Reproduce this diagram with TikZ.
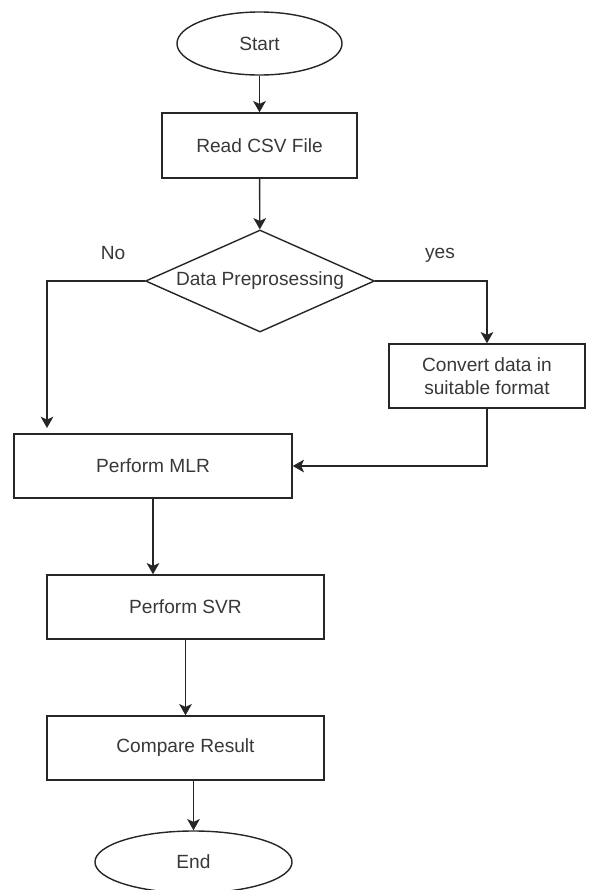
\documentclass[tikz,border=0pt]{standalone}
\usepackage{fontspec}
\setmainfont{Liberation Sans}
\usetikzlibrary{arrows.meta,positioning,shapes.geometric}
\tikzset{
  flow/.style={draw=black!85, line width=1pt, font=\fontsize{13.6}{16}\selectfont, text=black!78, inner sep=0pt, align=center},
  procbox/.style={flow, rectangle, minimum height=1.6cm},
  termin/.style={flow, ellipse},
  decide/.style={flow, diamond, aspect=2.25},
  conn/.style={draw=black!85, line width=1pt, -{Stealth[length=8pt,width=9pt,inset=2pt]}}
}
\begin{document}
\begin{tikzpicture}[x=0.025cm,y=-0.025cm]
\useasboundingbox (0,0) rectangle (589,890);
\node[termin, minimum width=4.125cm, minimum height=1.575cm] (start) at (259.5,43.5) {Start};
\node[procbox, minimum width=4.875cm, minimum height=1.625cm] (read) at (259.5,145.5) {Read CSV File};
\node[decide, minimum width=5.725cm, minimum height=2.55cm] (prep) at (260,281) {Data Preprosessing};
\node[procbox, minimum width=4.9cm] (conv) at (487,376) {Convert data in\\suitable format};
\node[procbox, minimum width=6.95cm] (mlr) at (153,466) {Perform MLR};
\node[procbox, minimum width=6.925cm] (svr) at (185.5,607) {Perform SVR};
\node[procbox, minimum width=6.925cm] (cmp) at (185.5,748) {Compare Result};
\node[termin, minimum width=4.925cm, minimum height=1.55cm] (end) at (193.5,862) {End};
\coordinate (noend) at (47,428);
\node[flow, draw=none] (nolbl) at (113,253) {No};
\node[flow, draw=none] (yeslbl) at (440,255) {yes};
\draw[conn] (start) -- (read);
\draw[conn] (read) -- (prep);
\draw[conn] (prep.west) -| (noend);
\draw[conn] (prep.east) -| (conv.north);
\draw[conn] (conv.south) |- (mlr.east);
\draw[conn] (mlr.south) -- (mlr.south |- svr.north);
\draw[conn] (svr) -- (cmp);
\draw[conn] (cmp.south -| end.north) -- (end.north);
\end{tikzpicture}
\end{document}
